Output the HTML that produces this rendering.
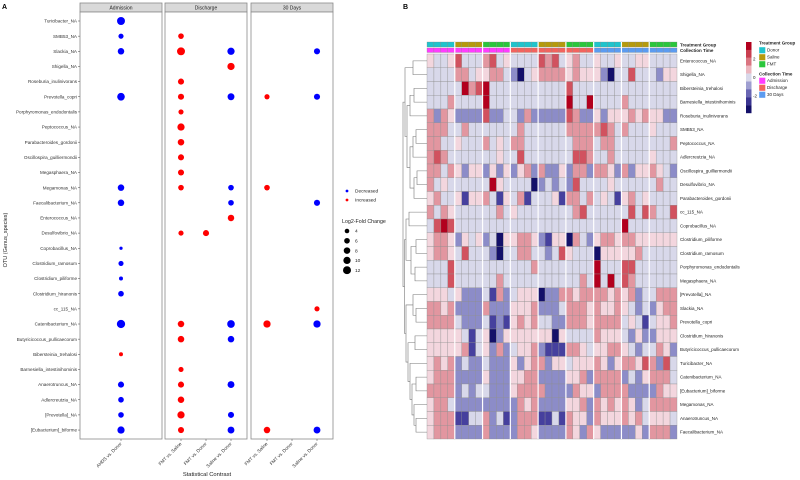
<!DOCTYPE html>
<html><head><meta charset="utf-8"><style>
html,body{margin:0;padding:0;background:#fff;width:800px;height:480px;overflow:hidden}
svg{display:block;font-family:"Liberation Sans",sans-serif}
</style></head><body>
<svg id="fig" width="800" height="480" viewBox="0 0 800 480">
<text x="2" y="9" font-size="7" font-weight="bold">A</text>
<text x="403" y="9" font-size="7" font-weight="bold">B</text>
<g id="pa"></g>
<g id="pb"></g>
</svg>
<script>
// ---------- Panel A data ----------
const otus = ["Turicibacter_NA","SMB53_NA","Slackia_NA","Shigella_NA","Roseburia_inulinivorans","Prevotella_copri","Porphyromonas_endodontalis","Peptococcus_NA","Parabacteroides_gordonii","Oscillospira_guilliermondii","Megasphaera_NA","Megamonas_NA","Faecalibacterium_NA","Enterococcus_NA","Desulfovibrio_NA","Coprobacillus_NA","Clostridium_ramosum","Clostridium_piliforme","Clostridium_hiranonis","cc_115_NA","Catenibacterium_NA","Butyricicoccus_pullicaecorum","Bibersteinia_trehalosi","Barnesiella_intestinihominis","Anaerotruncus_NA","Adlercreutzia_NA","[Prevotella]_NA","[Eubacterium]_biforme"];
const facets = ["Admission","Discharge","30 Days"];
const facetContrasts = [["AHDS vs. Donor"],["FMT vs. Saline","FMT vs. Donor","Saline vs. Donor"],["FMT vs. Saline","FMT vs. Donor","Saline vs. Donor"]];
const pointOtu =     [0,1,1,2,2,2,2,3,4,5,5,5,5,5,6,7,8,9,10,11,11,11,11,12,12,12,13,14,14,15,16,17,18,19,20,20,20,20,20,21,21,22,23,24,24,24,25,25,26,26,26,27,27,27,27,27];
const pointFacet =   [0,0,1,0,1,1,2,1,1,0,1,1,2,2,1,1,1,1,1,0,1,1,2,0,1,2,1,1,1,0,0,0,0,2,0,1,1,2,2,1,1,0,1,0,1,1,0,1,0,1,1,0,1,1,2,2];
const pointContrast= [0,0,0,0,0,2,2,2,0,0,0,2,0,2,0,0,0,0,0,0,0,2,0,0,2,2,2,0,1,0,0,0,0,2,0,0,2,0,2,0,2,0,0,0,0,2,0,0,0,0,2,0,0,2,0,2];
const pointFC =      [-12,-5,6,-8,12,-10,-7,10,7,-11,7,-9,5,-7,5,10,8,7,7,-8,6,-6,6,-8,-6,-7,8,5,7,-2,-5,-3,-6,5,-13,8,-11,10,-10,8,-8,3,5,-7,7,-9,-6,8,-6,10,-7,-10,7,-9,8,-9];
const legendSizes = [4,6,8,10,12];

const NS="http://www.w3.org/2000/svg";
function mk(tag,attrs,parent,txt){const e=document.createElementNS(NS,tag);for(const k in attrs)e.setAttribute(k,attrs[k]);if(txt!==undefined)e.textContent=txt;parent.appendChild(e);return e;}
const pa=document.getElementById('pa');
const panels=[[80,162],[165,247],[251,333]];
const stripTop=3, stripH=9, plotTop=12, plotBot=439;
const rowY=i=>21+i*15.15;
function colX(f,c){const [a,b]=panels[f];const n=facetContrasts[f].length;if(n===1)return (a+b)/2;return a+16+c*(b-a-32)/(n-1);}
const rad=v=>1.15*Math.sqrt(Math.abs(v));
panels.forEach((p,f)=>{
  const s=mk('rect',{x:p[0],y:stripTop,width:p[1]-p[0],height:stripH,fill:'#d9d9d9',stroke:'#8a8a8a','stroke-width':0.8},pa);
  
  
  const t=mk('text',{x:(p[0]+p[1])/2,y:stripTop+6.3,'font-size':5,'text-anchor':'middle',fill:'#222'},pa,facets[f]);
  
  
  const r=mk('rect',{x:p[0],y:plotTop,width:p[1]-p[0],height:plotBot-plotTop,fill:'#fff',stroke:'#8a8a8a','stroke-width':0.8},pa);
  
  
  facetContrasts[f].forEach((c,ci)=>{
    const x=colX(f,ci);
    mk('line',{x1:x,x2:x,y1:plotBot,y2:plotBot+2,stroke:'#444','stroke-width':0.5},pa);
    const l=mk('text',{x:x+1,y:plotBot+5,'font-size':4.6,'text-anchor':'end',fill:'#333',transform:`rotate(-45 ${x+1} ${plotBot+5})`},pa,c);
    
    
  });
});
otus.forEach((o,i)=>{
  const y=rowY(i);
  mk('line',{x1:78,x2:80,y1:y,y2:y,stroke:'#444','stroke-width':0.5},pa);
  const t=mk('text',{x:77,y:y+1.6,'font-size':4.6,'text-anchor':'end',fill:'#333'},pa,o);
  
  
});
pointOtu.forEach((o,k)=>{
  const c=mk('circle',{cx:colX(pointFacet[k],pointContrast[k]),cy:rowY(o),r:rad(pointFC[k]),fill:pointFC[k]<0?'#0000ff':'#ff0000'},pa);
  
  
});
{
const yt=mk('text',{x:7,y:240,'font-size':5.5,'text-anchor':'middle',fill:'#222',transform:'rotate(-90 7 240)'},pa,'OTU (Genus_species)');


const xt=mk('text',{x:207,y:476,'font-size':5.8,'text-anchor':'middle',fill:'#222'},pa,'Statistical Contrast');


[['Decreased','#0000ff',191],['Increased','#ff0000',200]].forEach(d=>{
  const c=mk('circle',{cx:347,cy:d[2],r:1.4,fill:d[1]},pa);
  
  
  const t=mk('text',{x:355,y:d[2]+1.7,'font-size':4.8,fill:'#222'},pa,d[0]);
  
  
});
const lt=mk('text',{x:342,y:223,'font-size':5.3,fill:'#222'},pa,'Log2-Fold Change');


legendSizes.forEach((v,i)=>{
  const y=231+i*9.8;
  const c=mk('circle',{cx:347,cy:y,r:rad(v),fill:'#000'},pa);
  
  
  const t=mk('text',{x:355,y:y+1.7,'font-size':4.8,fill:'#222'},pa,String(v));
  
  
});
}

// ---------- Panel B data ----------
const hmRows = ["Enterococcus_NA","Shigella_NA","Bibersteinia_trehalosi","Barnesiella_intestinihominis","Roseburia_inulinivorans","SMB53_NA","Peptococcus_NA","Adlercreutzia_NA","Oscillospira_guilliermondii","Desulfovibrio_NA","Parabacteroides_gordonii","cc_115_NA","Coprobacillus_NA","Clostridium_piliforme","Clostridium_ramosum","Porphyromonas_endodontalis","Megasphaera_NA","[Prevotella]_NA","Slackia_NA","Prevotella_copri","Clostridium_hiranonis","Butyricicoccus_pullicaecorum","Turicibacter_NA","Catenibacterium_NA","[Eubacterium]_biforme","Megamonas_NA","Anaerotruncus_NA","Faecalibacterium_NA"];
const treatmentGroups = ["Donor","Saline","FMT","Donor","Saline","FMT","Donor","Saline","FMT"];
const collectionTimes = ["Admission","Admission","Admission","Discharge","Discharge","Discharge","30 Days","30 Days","30 Days"];
// z-scores coded a=-3 b=-2 c=-1 d=0 e=0.5 f=1 g=2 h=3
const hmCodes = [
"eddegdddfgdeddddgfgdefddeddeddeedddd",
"ddddffdeeffdcadeffffefeeecaddgdddcee",
"dddddhfghdddddddddddgddddddddddddddd",
"dddfddddhdddddddddddhddhddddfddddddd",
"fcfeccccgccddcfcccccgfcceceeefefeecc",
"fffddfdddddddfddddddfffffgfdfdddeddd",
"ffddedddfdedffdddddddfffdffddddddddfg",
"fgfdddddddeddgdddddddggfddfdddddeddd",
"ffdfeceecececefcfccecffcffecfceefedcc",
"fdeddddddheddddacdcdcgddddeddddddfdd",
"efddebeefdbedfbdddebffdfdedbefdeddddg",
"fdfeddddddfdeddddddddfgddddddgdgfddgd",
"dghgddddddddddddddddddddddddhddddddd",
"effecedecdaeeffecbeeafdceffeffeeeeee",
"effedgdddcaddffddcdgedddaeeeeefdddddc",
"dddgdddddddddddfddddddddhdddggddddddf",
"dddgddddddfdddddddddddfdhdhdgfddddddde",
"eeedecccdbfcdeeeaccffeffffefefcddfff",
"ffefccccfccceeefcccdfffefeefedcdceffe",
"ffffdcccdbcbefefddccfffeffffdedbdeefe",
"eeeeedbdeaceeeeeeeaeddddfeeedcecceeef",
"eeeeefbdecfcdeefcbbbffedeeffedcddfec",
"efefcdccdccceceffceedeeefeceffegfcgdec",
"efffcccceccceeffcccceefcffffcdcefffd",
"ffffcdcddccceffffccccfeecffffccccfeee",
"effdcccccccccfefcccceefcfefefecdffff",
"efffbbddfcdbcfffbbdbfeecfeeefefdeeed",
"efffccccfccccffeccccfecfecccccecfffc"
].map(s=>(s+"dddddddddddddddddddddddddddddddddddd").slice(0,36));
const codeValues = {a:-3,b:-2,c:-1,d:0,e:0.5,f:1,g:2,h:3};
const colorbarTicks = [2,0,-2];

function zColor(v){
  const stops=[[-3,[20,16,105]],[-2,[70,64,158]],[-1,[140,140,200]],[0,[216,216,234]],[0.5,[243,214,222]],[1,[226,150,160]],[2,[209,82,95]],[3,[178,0,30]]];
  for(let i=0;i<stops.length-1;i++){const [a,ca]=stops[i],[b,cb]=stops[i+1];if(v<=b){const t=(v-a)/(b-a);return 'rgb('+ca.map((c,j)=>Math.round(c+(cb[j]-c)*t)).join(',')+')';}}
  return 'rgb(178,0,30)';
}
const groupColors={Donor:'#1fc4cc',Saline:'#b59a0c',FMT:'#2ac63c'};
const timeColors={Admission:'#ff3cff',Discharge:'#f2635e','30 Days':'#5b9bf0'};
const pb=document.getElementById('pb');
const hx0=427, cw=250/36, hy0=54, rh=13.75;
const cellX=j=>hx0+j*cw;
const cellY=i=>hy0+i*rh;
treatmentGroups.forEach((g,k)=>{
  for(let m=0;m<4;m++){
    const j=k*4+m;
    const r1=mk('rect',{x:cellX(j),y:42,width:cw,height:5,fill:groupColors[g],stroke:'#888','stroke-width':0.3},pb);
    
    
    const r2=mk('rect',{x:cellX(j),y:48,width:cw,height:4.5,fill:timeColors[collectionTimes[k]],stroke:'#888','stroke-width':0.3},pb);
    
    
  }
});
hmCodes.forEach((s,i)=>{
  for(let j=0;j<36;j++){
    const c=mk('rect',{x:cellX(j),y:cellY(i),width:cw,height:rh,fill:zColor(codeValues[s[j]]),stroke:'#8f8f8f','stroke-width':0.35},pb);
    
    
  }
  const t=mk('text',{x:680,y:cellY(i)+rh/2+1.6,'font-size':4.5,fill:'#222'},pb,hmRows[i]);
  
  
});
for(let k=1;k<9;k++){mk('line',{x1:cellX(k*4),x2:cellX(k*4),y1:42,y2:cellY(28),stroke:'#fff','stroke-width':1.2},pb);}
{
const a=mk('text',{x:680,y:46.5,'font-size':4.5,'font-weight':'bold',fill:'#222'},pb,'Treatment Group');
const b=mk('text',{x:680,y:52,'font-size':4.5,'font-weight':'bold',fill:'#222'},pb,'Collection Time');
for(let k=0;k<9;k++){const v=3-k*0.75;const r=mk('rect',{x:746,y:42+k*7.9,width:5.5,height:8,fill:zColor(v)},pb);}
colorbarTicks.forEach(v=>{const y=77.5-v*9.2;const t=mk('text',{x:753,y:y+1.5,'font-size':4.5,fill:'#222'},pb,String(v));});
const tg=mk('text',{x:759,y:44.5,'font-size':4.5,'font-weight':'bold',fill:'#222'},pb,'Treatment Group');
['Donor','Saline','FMT'].forEach((g,i)=>{const y=47+i*7;const r=mk('rect',{x:759,y:y,width:6.5,height:6.5,fill:groupColors[g],stroke:'#fff','stroke-width':0.4},pb);const t=mk('text',{x:767,y:y+4.6,'font-size':4.5,fill:'#222'},pb,g);});
const ct=mk('text',{x:759,y:75.5,'font-size':4.5,'font-weight':'bold',fill:'#222'},pb,'Collection Time');
['Admission','Discharge','30 Days'].forEach((g,i)=>{const y=77.5+i*7;const r=mk('rect',{x:759,y:y,width:6.5,height:6.5,fill:timeColors[g],stroke:'#fff','stroke-width':0.4},pb);const t=mk('text',{x:767,y:y+4.6,'font-size':4.5,fill:'#222'},pb,g);});
}
// dendrogram: [left, right, mergeX]
const treeTop=[[0,1,413],[[[2,3,414],4,410],[[[5,6,416],7,413],[[8,9,417],10,414],410],407],405];
const treeMid=[[11,12,409],[[13,14,416],[15,16,415],411],406];
const treeBot=[[17,[18,19,416],413],[[20,21,415],[22,[[23,24,416],[25,[26,27,416],414],412],410],408],406];
const tree=[treeTop,[treeMid,treeBot,404.5],403];
const dg=mk('g',{stroke:'#777','stroke-width':0.6,fill:'none'},pb);


function draw(n){
  if(typeof n==='number')return [427,cellY(n)+rh/2];
  const a=draw(n[0]),b=draw(n[1]),x=n[2];
  mk('path',{d:`M${a[0]},${a[1]}H${x}V${b[1]}H${b[0]}`},dg);
  return [x,(a[1]+b[1])/2];
}
draw(tree);
</script>
</body></html>
